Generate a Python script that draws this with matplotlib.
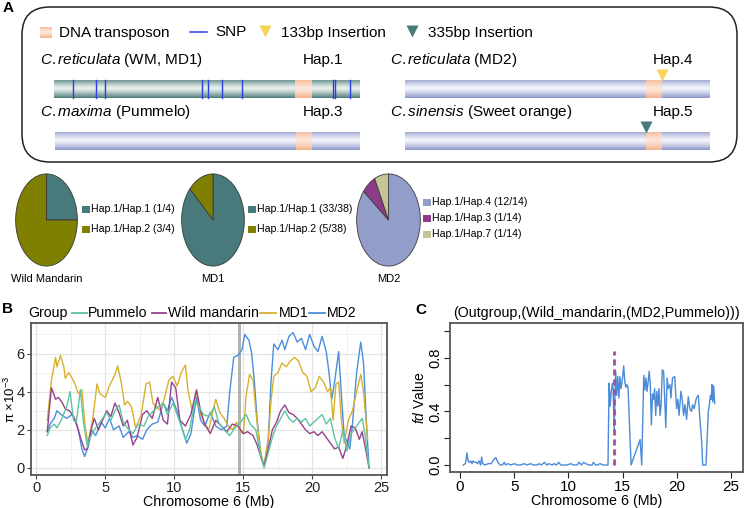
import numpy as np
import matplotlib
matplotlib.use('Agg')
import matplotlib.pyplot as plt
from matplotlib.patches import FancyBboxPatch, Rectangle
from matplotlib.ticker import MultipleLocator
from matplotlib.colors import to_rgb

plt.rcParams['font.family'] = ['Liberation Sans', 'DejaVu Sans']
plt.rcParams['mathtext.fontset'] = 'custom'
plt.rcParams['mathtext.rm'] = 'Liberation Sans'
plt.rcParams['mathtext.it'] = 'Liberation Sans:italic'
plt.rcParams['mathtext.bf'] = 'Liberation Sans:bold'

# ---------------- data: panel A pies ----------------
wm_labels = ['Hap.1/Hap.1 (1/4)', 'Hap.1/Hap.2 (3/4)']
wm_counts = [1, 3]
md1_labels = ['Hap.1/Hap.1 (33/38)', 'Hap.1/Hap.2 (5/38)']
md1_counts = [33, 5]
md2_labels = ['Hap.1/Hap.4 (12/14)', 'Hap.1/Hap.3 (1/14)', 'Hap.1/Hap.7 (1/14)']
md2_counts = [12, 1, 1]
pie_titles = ['Wild Mandarin', 'MD1', 'MD2']

# haplotype schematic labels
hap_species = [r'$\it{C.reticulata}$ (WM, MD1)', r'$\it{C.maxima}$ (Pummelo)',
               r'$\it{C.reticulata}$ (MD2)', r'$\it{C.sinensis}$ (Sweet orange)']
hap_names = ['Hap.1', 'Hap.3', 'Hap.4', 'Hap.5']
snp_pos_hap1 = [72.7, 95.7, 105.3, 201.7, 208.3, 222.3, 242.3, 333.0, 335.0, 350.0]

# ---------------- data: panel B (nucleotide diversity) ----------------
pum_mb = [0.8,1.0,1.3,1.5,1.8,2.2,2.45,2.7,2.9,3.2,3.4,3.7,3.9,4.2,4.5,4.8,5.1,5.4,5.7,6.0,
          6.3,6.6,7.0,7.4,7.8,8.1,8.5,8.8,9.2,9.5,9.9,10.2,10.5,10.8,11.1,11.5,11.8,12.1,12.5,12.9,
          13.2,13.6,14.0,14.4,14.8,15.2,15.5,15.9,16.2,16.5,16.8,17.1,17.4,17.7,18.0,18.3,18.6,18.9,19.2,19.5,
          19.8,20.1,20.4,20.7,21.0,21.3,21.6,21.9,22.2,22.5,22.8,23.1,23.4,23.6,23.8,24.1]
pum_pi = [1.7,2.1,2.3,2.1,2.5,3.2,4.0,2.5,2.4,4.1,2.5,1.1,1.6,2.0,2.3,2.6,2.9,2.5,3.0,3.3,
          2.4,2.1,1.8,2.3,2.2,2.7,3.0,3.2,3.4,2.8,3.4,2.8,2.2,1.5,2.0,3.5,3.2,2.8,2.7,3.2,
          2.4,2.0,1.7,2.1,2.4,2.8,2.3,2.0,0.8,0.0,0.8,1.6,2.2,2.6,3.0,2.6,2.4,2.6,2.4,2.6,
          2.2,2.4,2.6,2.8,2.3,2.6,1.6,1.0,2.0,0.9,1.8,2.1,2.4,2.6,1.8,0.0]

wm_mb = [0.8,0.95,1.1,1.4,1.6,1.9,2.1,2.4,2.7,3.0,3.2,3.5,3.7,3.9,4.2,4.5,4.8,5.1,5.4,5.7,
         6.0,6.3,6.6,7.0,7.3,7.7,8.0,8.4,8.8,9.2,9.5,9.8,10.1,10.4,10.8,11.2,11.6,11.9,12.2,12.6,
         13.0,13.4,13.8,14.2,14.6,15.0,15.3,15.7,16.0,16.3,16.5,16.8,17.1,17.4,17.7,18.0,18.3,18.6,18.9,19.2,
         19.5,19.8,20.1,20.4,20.7,21.0,21.3,21.6,21.9,22.2,22.5,22.8,23.1,23.4,23.6,23.9,24.1]
wm_pi = [1.9,3.1,4.2,3.6,3.7,3.4,3.1,3.0,2.7,2.1,1.6,0.95,1.0,1.8,2.6,2.0,2.5,3.0,2.7,3.4,
         2.9,2.2,2.5,1.2,1.6,2.8,3.0,2.6,3.7,2.5,2.3,4.5,4.2,2.5,2.2,2.8,4.1,3.0,2.3,1.8,
         2.5,2.2,1.9,2.3,2.2,1.8,1.9,1.7,1.2,0.5,0.1,1.0,2.0,2.4,3.0,3.3,2.9,2.8,2.6,2.3,
         2.0,1.8,1.9,1.7,1.9,1.6,1.3,1.0,1.1,0.5,1.2,2.2,2.1,1.5,1.9,0.8,0.0]

md1_mb = [0.8,0.9,1.1,1.4,1.5,1.75,2.0,2.1,2.35,2.6,2.8,3.05,3.3,3.55,3.75,4.1,4.4,4.6,5.0,5.3,
          5.7,5.9,6.15,6.4,6.6,6.9,7.2,7.6,7.95,8.2,8.45,8.7,9.0,9.3,9.6,9.9,10.2,10.5,10.8,11.0,
          11.3,11.6,11.9,12.2,12.5,12.8,13.0,13.3,13.6,13.9,14.2,14.5,14.8,15.0,15.2,15.45,15.7,15.9,16.2,16.5,
          16.8,17.0,17.2,17.5,17.8,18.1,18.4,18.7,19.0,19.3,19.6,19.9,20.2,20.5,20.8,21.1,21.3,21.5,21.7,21.9,
          22.1,22.3,22.6,22.9,23.2,23.5,23.7,24.0]
md1_pi = [2.5,3.2,4.6,5.8,5.3,5.9,5.3,4.7,5.0,4.7,4.4,3.9,4.1,2.1,1.3,2.6,4.4,3.9,3.7,4.3,
          4.9,5.35,4.5,3.3,3.5,3.2,2.1,2.8,4.4,4.5,3.4,3.2,3.0,3.7,4.6,4.8,4.3,5.0,5.4,4.0,
          3.0,4.0,2.8,2.3,2.0,3.0,3.6,2.9,2.6,2.2,2.0,2.4,1.9,1.8,3.8,4.9,4.6,3.0,1.0,0.1,
          1.5,3.5,4.8,5.0,5.5,5.3,5.6,5.8,5.6,5.0,4.8,4.0,4.2,4.8,4.5,4.0,4.2,2.5,4.4,4.5,
          2.5,1.3,2.5,3.0,4.0,4.9,4.0,1.5]

md2_mb = [0.8,1.0,1.3,1.5,1.8,2.2,2.6,2.9,3.1,3.3,3.5,3.8,4.0,4.3,4.7,5.0,5.3,5.6,6.0,6.3,
          6.7,7.0,7.3,7.7,8.0,8.4,8.8,9.2,9.5,9.8,10.2,10.6,10.9,11.2,11.6,11.9,12.2,12.6,13.0,13.4,
          13.8,14.0,14.3,14.6,14.9,15.1,15.4,15.6,15.8,16.0,16.3,16.5,16.8,17.0,17.2,17.5,17.8,18.0,18.3,18.6,
          18.9,19.2,19.5,19.8,20.1,20.4,20.7,21.0,21.2,21.4,21.6,21.9,22.1,22.3,22.5,22.7,22.9,23.2,23.5,23.7,
          23.9,24.1]
md2_pi = [1.9,2.3,2.6,3.0,2.8,2.6,2.8,2.4,1.8,1.0,0.6,1.2,2.0,1.7,2.4,2.1,2.6,2.0,2.2,1.6,
          1.9,1.6,1.7,1.5,2.0,2.3,2.4,3.4,3.0,3.7,3.0,2.0,1.3,1.8,3.7,2.5,2.2,2.9,2.2,2.0,
          2.2,3.9,5.8,5.9,6.2,7.0,6.7,6.0,4.5,2.5,0.5,0.1,1.5,4.5,6.5,6.2,6.7,6.2,6.9,7.1,
          6.6,6.8,6.2,7.0,6.4,6.1,6.9,6.1,5.0,3.6,4.5,6.1,3.8,1.7,1.4,1.0,2.3,5.0,6.6,5.5,
          2.5,0.0]
highlight_mb = (14.6, 14.85)

# ---------------- data: panel C (fd) ----------------
fd_mb = [0.3,0.5,0.65,0.75,0.85,1.0,1.1,1.2,1.35,1.5,1.6,1.75,1.9,2.0,2.1,2.3,2.6,2.9,3.1,3.3,
         3.5,3.7,3.9,4.1,4.2,4.4,4.7,5.0,5.3,5.6,5.9,6.2,6.5,6.8,7.1,7.3,7.5,7.8,8.0,8.2,
         8.5,8.7,8.9,9.1,9.3,9.6,9.9,10.2,10.5,10.8,11.0,11.2,11.4,11.6,11.9,12.2,12.3,12.5,12.7,12.9,
         13.2,13.5,13.65,
         13.75,13.85,13.95,14.06,14.12,14.22,14.3,14.36,14.45,14.55,14.65,14.75,14.85,14.95,15.1,
         15.2,15.3,15.4,15.5,15.78,16.61,16.76,16.95,17.05,17.15,17.25,17.35,17.45,17.55,17.65,
         17.75,17.85,17.95,18.05,18.15,18.25,18.35,18.45,18.55,18.65,18.78,18.98,19.1,19.22,19.37,
         19.45,19.6,19.8,19.98,20.1,20.2,20.38,20.5,20.62,20.75,20.9,21.05,21.2,21.35,21.45,
         21.6,21.8,21.98,22.1,22.29,22.38,22.69,22.9,23.0,23.1,23.18,23.24,23.32,23.4,23.49]
fd_val = [0,0.01,0.09,0.03,0.02,0.03,0.01,0.03,0.02,0.02,0.01,0.03,0.0,0.06,0.01,0.0,0.01,0.01,0.04,0.055,
          0.02,0.0,0.0,0.02,0.0,0.01,0.0,0.01,0.0,0.0,0.01,0.0,0.01,0.0,0.0,0.01,0.0,0.02,0.0,0.01,
          0.0,0.01,0.0,0.02,0.0,0.0,0.0,0.01,0.0,0.0,0.02,0.0,0.02,0.01,0.0,0.0,0.02,0.0,0.0,0.01,
          0.0,0.0,0.0,
          0.61,0.44,0.55,0.61,0.57,0.26,0.55,0.70,0.52,0.66,0.50,0.66,0.57,0.62,0.74,
          0.62,0.58,0.60,0.58,0.0,0.19,0.0,0.67,0.56,0.65,0.55,0.62,0.70,0.60,0.30,
          0.53,0.49,0.57,0.37,0.55,0.44,0.57,0.37,0.45,0.71,0.70,0.28,0.65,0.57,0.60,
          0.50,0.65,0.66,0.42,0.49,0.37,0.55,0.49,0.37,0.45,0.34,0.51,0.42,0.40,0.45,
          0.42,0.50,0.52,0.37,0.17,0.0,0.0,0.40,0.45,0.52,0.49,0.60,0.47,0.59,0.46]
fd_marker_mb = 14.18
fd_marker_top = 0.85

# ---------------- colours ----------------
C_TEAL = '#487a7b'
C_OLIVE = '#808000'
C_LAV = '#939dc9'
C_PURP = '#8e3b8a'
C_KHAKI = '#c4c495'
C_PUM = '#5ec4a2'
C_WM = '#96408e'
C_MD1 = '#d8b12c'
C_MD2 = '#4a8fdb'

W, H = 748, 508
fig = plt.figure(figsize=(W / 100, H / 100), dpi=100)

ov = fig.add_axes([0, 0, 1, 1])
ov.patch.set_alpha(0)
ov.axis('off')


def grad_rect(x0, x1, y0, y1, edge, center, z=2, power=1.3):
    t = np.linspace(0, 1, 40)
    w = np.clip(np.abs(t - 0.45) / 0.55, 0, 1) ** power
    e = np.array(to_rgb(edge)); c = np.array(to_rgb(center))
    cols = c[None, :] * (1 - w)[:, None] + e[None, :] * w[:, None]
    ov.imshow(cols[:, None, :], extent=[x0, x1, y1, y0], aspect='auto',
              interpolation='bilinear', zorder=z)


# rounded frame
ov.add_patch(FancyBboxPatch((22, 7), 715, 155, boxstyle='round,pad=0,rounding_size=28',
                            fc='none', ec='#222222', lw=1.1, zorder=1))

# legend row of panel A
grad_rect(40, 52, 27, 38, '#f5b18d', '#fde7da', z=3)
ov.text(59, 32.5, 'DNA transposon', fontsize=11, va='center', ha='left')
ov.plot([190, 207], [32, 32], color='#2b3ee0', lw=1.1, zorder=3)
ov.text(215, 32.5, 'SNP', fontsize=11, va='center', ha='left')
ov.plot([265], [31], marker='v', ms=8, color='#f7d35a', mec='none', ls='none', zorder=3)
ov.text(281, 32.5, '133bp Insertion', fontsize=11, va='center', ha='left')
ov.plot([412], [31], marker='v', ms=8, color=C_TEAL, mec='none', ls='none', zorder=3)
ov.text(428, 32.5, '335bp Insertion', fontsize=11, va='center', ha='left')

# haplotype bars
bar_x = [(54, 360), (55, 360), (405, 710), (405, 710)]
bar_y = [(80, 98), (132, 150), (80, 98), (132, 150)]
label_x = [40, 40, 390, 390]
hap_x = [303, 303, 653, 653]
te_x = [(295, 312), (296, 312), (646, 662), (646, 662)]
bar_edge = ['#4d7b79', '#8c96cb', '#8c96cb', '#8c96cb']
bar_center = ['#e9f0ee', '#f4f5fb', '#f4f5fb', '#f4f5fb']
for i in range(4):
    x0, x1 = bar_x[i]; y0, y1 = bar_y[i]
    grad_rect(x0, x1, y0, y1, bar_edge[i], bar_center[i], z=2)
    grad_rect(te_x[i][0], te_x[i][1], y0, y1, '#f5b18d', '#fde7da', z=3)
    ov.text(label_x[i], y0 - 20, hap_species[i], fontsize=11, va='center', ha='left')
    ov.text(hap_x[i], y0 - 20, hap_names[i], fontsize=11, va='center', ha='left')
for s in snp_pos_hap1:
    ov.plot([s, s], [80, 98], color='#2b3ee0', lw=1.0, zorder=4)
ov.plot([662], [75], marker='v', ms=8, color='#f7d35a', mec='none', ls='none', zorder=5)
ov.plot([646], [127], marker='v', ms=8, color=C_TEAL, mec='none', ls='none', zorder=5)

# ---------------- pies ----------------
pie_specs = [
    (15, 78, wm_counts, [C_TEAL, C_OLIVE], wm_labels, 82),
    (181, 245, md1_counts, [C_TEAL, C_OLIVE], md1_labels, 248),
    (356, 421, md2_counts, [C_LAV, C_PURP, C_KHAKI], md2_labels, 423),
]
pie_top, pie_bot = 173, 267
for k, (px0, px1, counts, cols, labels, lx) in enumerate(pie_specs):
    axp = fig.add_axes([px0 / W, 1 - pie_bot / H, (px1 - px0) / W, (pie_bot - pie_top) / H])
    axp.pie(counts, colors=cols, startangle=90, counterclock=False, radius=1,
            wedgeprops=dict(edgecolor='#3a3a3a', linewidth=0.6))
    axp.set_aspect('auto')
    axp.set_xlim(-1.02, 1.02); axp.set_ylim(-1.02, 1.02)
    axp.axis('off')
    axp.patch.set_visible(False)
    axp.set_zorder(0.5)
    ov.text((px0 + px1) / 2, 279, pie_titles[k], fontsize=8, ha='center', va='center')
    n = len(labels)
    if n == 2:
        ys = [209, 229]
    else:
        ys = [202, 218, 234]
    for j in range(n):
        ov.add_patch(Rectangle((lx, ys[j] - 3.5), 8, 7, fc=cols[j], ec='none', zorder=3))
        ov.text(lx + 9.5, ys[j], labels[j], fontsize=7.6, va='center', ha='left')

# ---------------- panel B ----------------
bx0, bx1 = 31, 387
axB = fig.add_axes([bx0 / W, 1 - 475 / H, (bx1 - bx0) / W, 152 / H])
axB.axvspan(highlight_mb[0], highlight_mb[1], color='#a0a0a0', alpha=0.8, lw=0, zorder=1)
series = [(pum_mb, pum_pi, C_PUM, 'Pummelo'), (wm_mb, wm_pi, C_WM, 'Wild mandarin'),
          (md1_mb, md1_pi, C_MD1, 'MD1'), (md2_mb, md2_pi, C_MD2, 'MD2')]
for xs, ys, c, lab in [series[3], series[2], series[1], series[0]]:
    axB.plot(xs, ys, color=c, lw=1.0, zorder=3)
axB.set_xlim(-0.38, 25.4)
axB.set_ylim(-0.37, 7.6)
axB.set_xticks([0, 5, 10, 15, 20, 25])
axB.set_yticks([0, 2, 4, 6])
axB.xaxis.set_minor_locator(MultipleLocator(2.5))
axB.yaxis.set_minor_locator(MultipleLocator(1))
axB.grid(which='major', color='#e3e3e3', lw=0.9, zorder=0)
axB.grid(which='minor', color='#efefef', lw=0.6, zorder=0)
axB.set_axisbelow(True)
axB.tick_params(which='minor', length=0)
axB.tick_params(which='major', length=3, color='#444', labelsize=10.5, labelcolor='#222', pad=1.5)
for sp in axB.spines.values():
    sp.set_color('#555555'); sp.set_linewidth(1.3)
axB.set_xlabel('Chromosome 6 (Mb)', fontsize=10.3, labelpad=0)
axB.set_ylabel(r'π ×10$^{-3}$', fontsize=9.5)
axB.yaxis.set_label_coords((18 - bx0) / (bx1 - bx0), 0.5)

# legend of panel B
ov.text(28, 313, 'Group', fontsize=10.2, va='center', ha='left')
leg_line_x = [(72, 87), (152, 166), (260, 276), (309, 325)]
leg_text_x = [88, 168, 279, 327]
for (xs, ys, c, lab), (l0, l1), tx in zip(series, leg_line_x, leg_text_x):
    ov.plot([l0, l1], [313, 313], color=c, lw=1.3)
    ov.text(tx, 313, lab, fontsize=10.2, va='center', ha='left')

# ---------------- panel C ----------------
axC = fig.add_axes([450 / W, 1 - 471.7 / H, 293 / W, 148.7 / H])
axC.plot(fd_mb, fd_val, color='#4a8ad6', lw=1.0, zorder=3)
axC.plot([fd_marker_mb, fd_marker_mb], [0, fd_marker_top], color='#a24f9c',
         lw=2.0, ls=(0, (2.2, 1.4)), zorder=4)
axC.set_xlim(-0.92, 26.1)
axC.set_ylim(-0.05, 1.06)
axC.set_xticks([0, 5, 10, 15, 20, 25])
axC.set_yticks([0, 0.2, 0.4, 0.6, 0.8, 1.0])
axC.set_yticklabels(['0.0', '', '0.4', '', '0.8', ''], rotation=90, va='center')
axC.tick_params(axis='x', length=4, color='#222', labelsize=11, pad=2)
axC.tick_params(axis='y', length=4, color='#222', labelsize=10.5, pad=1.5)
for sp in axC.spines.values():
    sp.set_color('#555555'); sp.set_linewidth(1.3)
axC.set_xlabel('Chromosome 6 (Mb)', fontsize=10.3, labelpad=0)
axC.set_ylabel(r'$\it{fd}$ Value', fontsize=10)
axC.yaxis.set_label_coords((427.5 - 450) / 293, 0.5)
axC.set_title('(Outgroup,(Wild_mandarin,(MD2,Pummelo)))', fontsize=10.3, pad=4)

# panel letters
ov.text(8, 8, 'A', fontsize=11, fontweight='bold', ha='center', va='center')
ov.text(8, 309, 'B', fontsize=11, fontweight='bold', ha='center', va='center')
ov.text(421, 310, 'C', fontsize=11, fontweight='bold', ha='center', va='center')

ov.set_xlim(0, W)
ov.set_ylim(H, 0)

fig.savefig('out.png', dpi=100)
